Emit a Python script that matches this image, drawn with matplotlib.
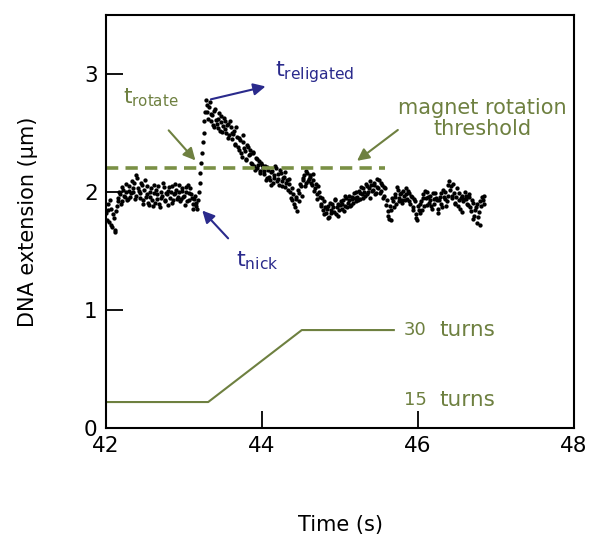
import numpy as np
import matplotlib
matplotlib.use("Agg")
import matplotlib.pyplot as plt

plt.rcParams['font.family'] = ['DejaVu Sans']
plt.rcParams['mathtext.default'] = 'regular'

# DNA extension trace (µm); two interleaved sample sets, each every 0.02 s
t0_a = 42.00
t0_b = 42.01
dt = 0.02
extension_a = [
    1.82, 1.90, 1.75, 1.86, 1.70, 1.78, 1.66, 1.88,
    1.95, 1.98, 1.92, 2.02, 1.96, 2.00, 1.94, 2.05, 1.99, 2.03,
    2.08, 1.97, 2.12, 2.01, 1.95, 2.06, 1.93, 2.10, 1.98, 1.91,
    1.96, 2.03, 1.88, 1.99, 2.02, 1.94, 1.90, 2.00, 1.97, 2.04,
    1.92, 1.98, 2.01, 1.95, 2.05, 1.93, 1.99, 2.02, 1.96, 2.06,
    1.94, 2.01, 1.97, 2.04, 1.92, 1.99, 2.03, 1.95, 1.90, 1.97,
    1.88, 1.93, 2.08, 2.25, 2.42, 2.60, 2.78,
    2.68, 2.72, 2.60, 2.65, 2.55, 2.70, 2.58, 2.62, 2.52, 2.64, 2.56, 2.60, 2.50, 2.58, 2.48, 2.55,
    2.45, 2.52, 2.40, 2.47, 2.36, 2.44, 2.30, 2.42, 2.35, 2.28,
    2.38, 2.32, 2.25, 2.34, 2.22, 2.29, 2.20, 2.26, 2.18, 2.23,
    2.15, 2.22, 2.12, 2.19, 2.10, 2.17, 2.08, 2.14, 2.20, 2.11,
    2.06, 2.16, 2.09, 2.13, 2.04, 2.10, 2.07, 2.00, 1.93, 1.98,
    1.87, 1.96, 2.02, 1.92, 2.05, 2.10, 2.14, 2.08, 2.16, 2.11,
    2.13, 2.06, 2.10, 2.03, 1.98, 2.05, 1.96, 1.90, 1.85, 1.92,
    1.82, 1.88, 1.79, 1.85, 1.90, 1.83, 1.94, 1.87, 1.80, 1.89,
    1.86, 1.93, 1.88, 1.95, 1.91, 1.97, 1.89, 1.94, 1.99, 1.92,
    1.96, 2.01, 1.94, 1.98, 2.03, 1.97, 2.05, 2.00, 1.95, 2.06,
    2.02, 2.08, 1.99, 2.04, 2.10, 2.01, 2.06, 1.97, 2.03, 1.93,
    1.80, 1.88, 1.76, 1.92, 1.98, 1.90, 2.02, 1.95, 1.99, 1.93,
    1.97, 2.03, 1.94, 1.99, 1.90, 1.96, 1.85, 1.92, 1.78, 1.88,
    1.82, 1.92, 1.98, 1.88, 1.95, 2.00, 1.91, 1.97, 1.86, 1.94,
    1.99, 1.93, 1.82, 1.96, 1.90, 2.02, 1.94, 1.88, 1.97, 2.09,
    2.05, 1.95, 1.99, 1.91, 2.03, 1.93, 1.86, 1.97, 1.92, 2.00,
    1.94, 1.89, 1.96, 1.84, 1.91, 1.80, 1.87, 1.74, 1.83, 1.92,
    1.96, 1.90,
]
extension_b = [
    1.76, 1.85, 1.93, 1.72, 1.81, 1.68, 1.84, 1.92,
    2.00, 1.90, 2.04, 1.97, 2.07, 1.93, 2.01, 1.96, 2.09, 2.00,
    1.94, 2.14, 2.03, 1.99, 2.08, 1.90, 2.02, 1.96, 2.05, 1.89,
    2.00, 1.93, 2.06, 1.91, 1.98, 2.05, 1.87, 1.95, 2.08, 1.93,
    1.99, 1.89, 2.04, 2.00, 1.91, 1.98, 2.07, 1.94, 2.00, 1.92,
    2.03, 1.96, 1.89, 2.00, 2.06, 1.93, 1.98, 1.86, 1.94, 1.91,
    1.86, 2.00, 2.16, 2.33, 2.50, 2.68, 2.74,
    2.62, 2.76, 2.66, 2.57, 2.69, 2.61, 2.54, 2.67, 2.59, 2.51, 2.63, 2.53, 2.57, 2.46, 2.60, 2.50,
    2.49, 2.41, 2.55, 2.38, 2.46, 2.33, 2.48, 2.37, 2.27, 2.40,
    2.31, 2.36, 2.24, 2.33, 2.19, 2.28, 2.23, 2.16, 2.25, 2.20,
    2.18, 2.10, 2.21, 2.13, 2.06, 2.18, 2.12, 2.22, 2.09, 2.15,
    2.19, 2.05, 2.12, 2.17, 2.08, 2.02, 2.11, 1.95, 2.03, 1.90,
    1.94, 1.84, 1.99, 2.07, 1.97, 2.12, 2.05, 2.18, 2.09, 2.14,
    2.08, 2.15, 2.01, 2.07, 1.94, 2.00, 1.88, 1.95, 1.81, 1.87,
    1.86, 1.78, 1.91, 1.82, 1.87, 1.93, 1.81, 1.90, 1.85, 1.92,
    1.90, 1.84, 1.97, 1.87, 1.93, 1.88, 1.96, 1.91, 1.95, 2.00,
    1.93, 1.99, 2.04, 1.95, 2.00, 2.07, 1.98, 2.03, 2.09, 2.01,
    2.06, 1.98, 2.11, 2.03, 1.99, 2.08, 1.95, 2.04, 1.89, 1.84,
    1.77, 1.85, 1.95, 1.87, 1.96, 2.04, 1.92, 1.98, 1.91, 2.01,
    1.93, 1.98, 2.01, 1.92, 1.97, 1.87, 1.94, 1.81, 1.76, 1.85,
    1.90, 1.85, 1.95, 2.01, 1.89, 1.96, 1.93, 1.88, 1.99, 1.90,
    1.95, 1.86, 1.93, 1.99, 1.87, 1.96, 2.00, 1.92, 2.06, 2.02,
    1.97, 2.07, 1.90, 1.96, 1.88, 1.99, 1.95, 1.83, 1.94, 1.97,
    1.90, 1.98, 1.87, 1.93, 1.77, 1.85, 1.90, 1.79, 1.72, 1.88,
    1.93, 1.97,
]
time_a = t0_a + dt * np.arange(len(extension_a))
time_b = t0_b + dt * np.arange(len(extension_b))

# magnet turns schedule (drawn on extension scale)
turns_t = [42.0, 43.31, 44.51, 45.69]
turns_y = [0.22, 0.22, 0.83, 0.83]
threshold = 2.20
threshold_end = 45.58

green = '#6e8040'
navy = '#2a2a8c'

fig = plt.figure(figsize=(5.90, 5.37), dpi=100)
ax = fig.add_axes([106/590, 1-428/537, (574-106)/590, (428-15)/537])

for tt, ee in ((time_a, extension_a), (time_b, extension_b)):
    ax.plot(tt, ee, 'o', color='black', markersize=3.1, markeredgewidth=0)
ax.plot([42.0, threshold_end], [threshold, threshold], '--', color='#7a9045',
        lw=2.6, dashes=(3.4, 2.0))
ax.plot(turns_t, turns_y, '-', color=green, lw=1.5)

ax.set_xlim(42, 48)
ax.set_ylim(0, 3.5)
ax.set_xticks([42, 44, 46, 48])
ax.set_yticks([0, 1, 2, 3])
ax.tick_params(direction='in', length=12, width=1.3, labelsize=15.5,
               top=False, right=False, pad=6)
for s in ax.spines.values():
    s.set_linewidth(1.5)
ax.set_xlabel('Time (s)', fontsize=15, labelpad=42)
ax.set_ylabel('DNA extension (µm)', fontsize=15, labelpad=33)

# annotations
ax.text(42.22, 2.80, r't$_{rotate}$', color=green, fontsize=15.5, va='center', ha='left')
ax.annotate('', xy=(43.17, 2.25), xytext=(42.78, 2.54),
            arrowprops=dict(arrowstyle='-|>', color=green, lw=1.5, mutation_scale=18))
ax.text(44.17, 3.02, r't$_{religated}$', color=navy, fontsize=16, va='center', ha='left')
ax.annotate('', xy=(44.08, 2.90), xytext=(43.31, 2.78),
            arrowprops=dict(arrowstyle='-|>', color=navy, lw=1.5, mutation_scale=18))
ax.text(43.67, 1.42, r't$_{nick}$', color=navy, fontsize=16, va='center', ha='left')
ax.annotate('', xy=(43.21, 1.86), xytext=(43.59, 1.59),
            arrowprops=dict(arrowstyle='-|>', color=navy, lw=1.5, mutation_scale=18))
ax.text(46.83, 2.62, 'magnet rotation\nthreshold', color=green, fontsize=15,
        va='center', ha='center', linespacing=1.05)
ax.annotate('', xy=(45.19, 2.25), xytext=(45.77, 2.54),
            arrowprops=dict(arrowstyle='-|>', color=green, lw=1.5, mutation_scale=18))
ax.text(45.82, 0.83, '30', color=green, fontsize=13, va='center', ha='left')
ax.text(46.28, 0.83, 'turns', color=green, fontsize=15.5, va='center', ha='left')
ax.text(45.82, 0.24, '15', color=green, fontsize=13, va='center', ha='left')
ax.text(46.28, 0.24, 'turns', color=green, fontsize=15.5, va='center', ha='left')

fig.savefig('out.png', dpi=100)
